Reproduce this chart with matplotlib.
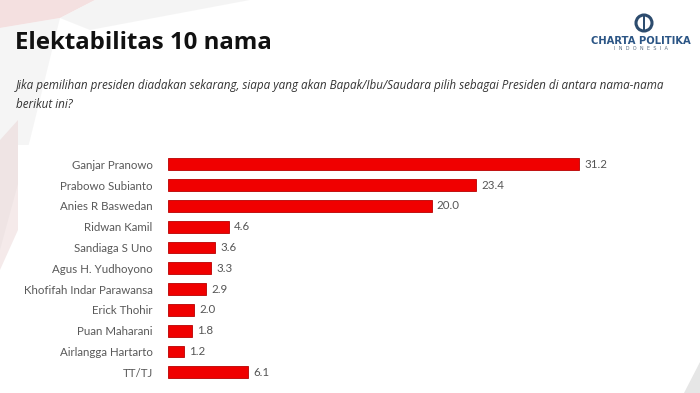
import numpy as np
import matplotlib.pyplot as plt
from matplotlib.patches import Polygon, Rectangle, Circle

# Data
names = ['Ganjar Pranowo', 'Prabowo Subianto', 'Anies R Baswedan', 'Ridwan Kamil',
         'Sandiaga S Uno', 'Agus H. Yudhoyono', 'Khofifah Indar Parawansa',
         'Erick Thohir', 'Puan Maharani', 'Airlangga Hartarto', 'TT/TJ']
values = [31.2, 23.4, 20.0, 4.6, 3.6, 3.3, 2.9, 2.0, 1.8, 1.2, 6.1]

title = 'Elektabilitas 10 nama'
question = ('Jika pemilihan presiden diadakan sekarang, siapa yang akan Bapak/Ibu/Saudara '
            'pilih sebagai Presiden di antara nama-nama\nberikut ini?')

W, H = 700, 393
fig = plt.figure(figsize=(W / 100, H / 100), dpi=100)
fig.patch.set_facecolor('white')

# background decoration, in pixel coordinates (y down)
bg = fig.add_axes([0, 0, 1, 1])
bg.set_xlim(0, W)
bg.set_ylim(H, 0)
bg.axis('off')
bg.add_patch(Polygon([(0, 0), (95, 0), (60, 18), (0, 28)], closed=True,
                     color='#e2a8a8', alpha=0.35, lw=0))
bg.add_patch(Polygon([(60, 18), (95, 0), (250, 0), (90, 30)], closed=True,
                     color='#eeeeee', alpha=0.6, lw=0))
bg.add_patch(Polygon([(0, 28), (60, 18), (30, 140), (0, 250)], closed=True,
                     color='#e4e4e4', alpha=0.35, lw=0))
bg.add_patch(Polygon([(0, 140), (18, 120), (18, 230), (0, 270)], closed=True,
                     color='#e6cccc', alpha=0.4, lw=0))
bg.add_patch(Rectangle((18, 145), 640, 250, color='white', lw=0))
bg.add_patch(Polygon([(684, 393), (700, 362), (700, 393)], closed=True,
                     color='#e6e6e6', lw=0))

# logo
bg.add_patch(Circle((644, 23), 8, fill=False, ec='#2d4c6e', lw=2.2))
bg.add_patch(Rectangle((642.5, 16), 2.2, 14, color='#2d4c6e', lw=0))
bg.text(640.5, 41, 'CHARTA POLITIKA', ha='center', va='center', fontsize=7.2,
        fontweight='bold', color='#2b5585', family='DejaVu Sans')
bg.text(640.5, 49, 'I  N  D  O  N  E  S  I  A', ha='center', va='center',
        fontsize=3.6, color='#5a6e82', family='DejaVu Sans')

# titles
bg.text(15, 43, title, ha='left', va='center', fontsize=17.3, fontweight='bold',
        color='#111111', family='Open Sans')
bg.text(16, 95, question, ha='left', va='center', fontsize=8.35, style='italic',
        color='#333333', family='Open Sans', linespacing=1.55)

# bar chart
x0, px_per_unit = 168, 13.18
top_px, row_px = 164.3 - 10.4, 20.8
ax_w = 432
ax = fig.add_axes([x0 / W, 1 - (top_px + row_px * len(names)) / H,
                   ax_w / W, row_px * len(names) / H])
ax.set_facecolor('none')
y = np.arange(len(names))
ax.barh(y, values, height=0.57, color='#f00000', edgecolor='#b80000', linewidth=0.6)
ax.set_xlim(0, ax_w / px_per_unit)
ax.set_ylim(len(names) - 0.5, -0.5)
for yi, v in zip(y, values):
    ax.text(v + 0.38, yi, f'{v:.1f}', ha='left', va='center', fontsize=8.3,
            color='#555555', family='Lato')
ax.set_yticks(y)
ax.set_yticklabels(names, fontsize=8.3, color='#595959', family='Lato')
ax.tick_params(axis='y', length=0, pad=11)
ax.set_xticks([])
for s in ax.spines.values():
    s.set_visible(False)

fig.savefig('out.png', dpi=100, facecolor='white')
